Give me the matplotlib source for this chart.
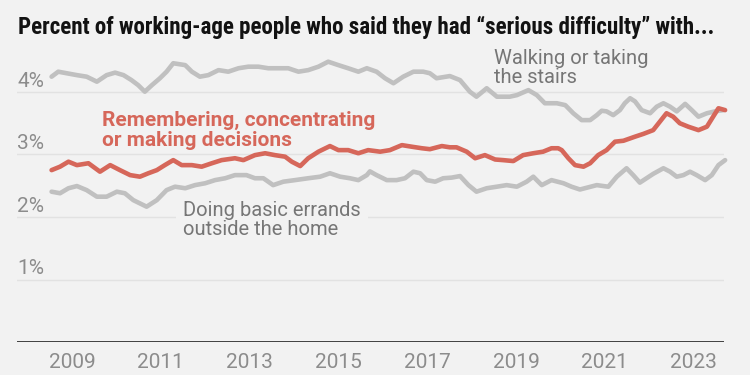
import matplotlib
matplotlib.use("Agg")
import matplotlib.pyplot as plt
from matplotlib import font_manager
import matplotlib.transforms as mtransforms

# ---------------- data ----------------
walk_x = [2008.54, 2008.69, 2008.88, 2009.11, 2009.33, 2009.56, 2009.78, 2009.97, 2010.16, 2010.34,
          2010.49, 2010.64, 2010.80, 2010.98, 2011.13, 2011.28, 2011.55, 2011.70, 2011.88, 2012.07,
          2012.30, 2012.52, 2012.75, 2012.97, 2013.20, 2013.42, 2013.65, 2013.87, 2014.10, 2014.32,
          2014.55, 2014.77, 2015.00, 2015.22, 2015.45, 2015.64, 2015.86, 2016.05, 2016.24, 2016.46,
          2016.69, 2016.91, 2017.06, 2017.21, 2017.51, 2017.74, 2017.96, 2018.11, 2018.34, 2018.57,
          2018.86, 2019.02, 2019.28, 2019.47, 2019.65, 2019.92, 2020.11, 2020.29, 2020.48, 2020.67,
          2020.82, 2020.93, 2021.04, 2021.19, 2021.34, 2021.45, 2021.57, 2021.68, 2021.83, 2022.02,
          2022.17, 2022.32, 2022.47, 2022.62, 2022.81, 2022.96, 2023.11, 2023.30, 2023.48, 2023.67]
walk_y = [4.245, 4.325, 4.30, 4.27, 4.245, 4.165, 4.27, 4.31, 4.27, 4.19,
          4.11, 4.005, 4.11, 4.22, 4.325, 4.46, 4.43, 4.325, 4.245, 4.27,
          4.35, 4.325, 4.38, 4.405, 4.405, 4.38, 4.38, 4.38, 4.325, 4.35,
          4.405, 4.485, 4.43, 4.38, 4.325, 4.38, 4.325, 4.22, 4.14, 4.245,
          4.325, 4.325, 4.30, 4.22, 4.255, 4.19, 4.005, 3.925, 4.06, 3.925,
          3.925, 3.95, 4.03, 3.95, 3.82, 3.82, 3.79, 3.66, 3.55, 3.55,
          3.63, 3.70, 3.69, 3.63, 3.71, 3.82, 3.90, 3.85, 3.71, 3.66,
          3.765, 3.82, 3.765, 3.69, 3.81, 3.71, 3.605, 3.66, 3.69, 3.71]

mem_x = [2008.54, 2008.73, 2008.92, 2009.11, 2009.37, 2009.63, 2009.86, 2010.08, 2010.31, 2010.53,
         2010.72, 2010.91, 2011.09, 2011.28, 2011.47, 2011.70, 2011.92, 2012.15, 2012.37, 2012.67,
         2012.86, 2013.12, 2013.35, 2013.57, 2013.80, 2013.95, 2014.14, 2014.32, 2014.55, 2014.81,
         2015.00, 2015.22, 2015.45, 2015.67, 2015.94, 2016.16, 2016.43, 2016.65, 2016.88, 2017.06,
         2017.33, 2017.51, 2017.66, 2017.89, 2018.08, 2018.30, 2018.53, 2018.71, 2018.94, 2019.16,
         2019.39, 2019.61, 2019.80, 2019.95, 2020.03, 2020.18, 2020.33, 2020.52, 2020.67, 2020.85,
         2021.04, 2021.23, 2021.42, 2021.68, 2021.87, 2022.09, 2022.24, 2022.39, 2022.54, 2022.69,
         2022.88, 2023.11, 2023.30, 2023.44, 2023.56, 2023.71]
mem_y = [2.75, 2.805, 2.885, 2.83, 2.86, 2.725, 2.83, 2.75, 2.67, 2.645,
         2.70, 2.75, 2.83, 2.91, 2.83, 2.83, 2.805, 2.86, 2.91, 2.94,
         2.91, 2.99, 3.02, 2.99, 2.965, 2.885, 2.815, 2.94, 3.045, 3.135,
         3.07, 3.07, 3.02, 3.07, 3.045, 3.07, 3.15, 3.125, 3.10, 3.085,
         3.135, 3.115, 3.115, 3.045, 2.94, 2.99, 2.92, 2.91, 2.895, 2.99,
         3.02, 3.045, 3.10, 3.10, 3.07, 2.94, 2.83, 2.805, 2.86, 2.99,
         3.07, 3.205, 3.22, 3.285, 3.33, 3.39, 3.525, 3.66, 3.605, 3.50,
         3.445, 3.39, 3.445, 3.605, 3.74, 3.71]

err_x = [2008.54, 2008.73, 2008.92, 2009.11, 2009.33, 2009.56, 2009.78, 2010.01, 2010.19, 2010.38,
         2010.68, 2010.91, 2011.13, 2011.32, 2011.55, 2011.77, 2012.00, 2012.22, 2012.45, 2012.67,
         2012.93, 2013.12, 2013.31, 2013.53, 2013.76, 2014.02, 2014.32, 2014.59, 2014.81, 2015.04,
         2015.26, 2015.45, 2015.64, 2015.71, 2015.86, 2016.09, 2016.31, 2016.50, 2016.69, 2016.84,
         2016.99, 2017.18, 2017.36, 2017.55, 2017.74, 2017.93, 2018.11, 2018.34, 2018.57, 2018.79,
         2019.02, 2019.24, 2019.39, 2019.58, 2019.80, 2020.07, 2020.25, 2020.44, 2020.63, 2020.82,
         2020.97, 2021.08, 2021.27, 2021.49, 2021.64, 2021.79, 2021.94, 2022.09, 2022.32, 2022.47,
         2022.62, 2022.77, 2022.92, 2023.07, 2023.26, 2023.41, 2023.56, 2023.71]
err_y = [2.405, 2.38, 2.46, 2.495, 2.43, 2.325, 2.325, 2.405, 2.38, 2.27,
         2.165, 2.27, 2.43, 2.485, 2.46, 2.51, 2.54, 2.59, 2.62, 2.67,
         2.67, 2.62, 2.62, 2.51, 2.565, 2.59, 2.62, 2.645, 2.70, 2.645,
         2.62, 2.59, 2.67, 2.73, 2.67, 2.59, 2.59, 2.62, 2.725, 2.70,
         2.59, 2.565, 2.62, 2.63, 2.655, 2.51, 2.405, 2.46, 2.485, 2.51,
         2.485, 2.565, 2.645, 2.51, 2.59, 2.54, 2.485, 2.44, 2.475, 2.51,
         2.495, 2.485, 2.645, 2.78, 2.67, 2.55, 2.62, 2.69, 2.78, 2.725,
         2.645, 2.67, 2.725, 2.67, 2.59, 2.67, 2.83, 2.91]

x_ticks = [2009, 2011, 2013, 2015, 2017, 2019, 2021, 2023]
x_tick_labels = ["2009", "2011", "2013", "2015", "2017", "2019", "2021", "2023"]
y_ticks = [1, 2, 3, 4]
y_tick_labels = ["1%", "2%", "3%", "4%"]

title_text = "Percent of working-age people who said they had \u201cserious difficulty\u201d with..."
label_walk = "Walking or taking\nthe stairs"
label_mem = "Remembering, concentrating\nor making decisions"
label_err = "Doing basic errands\noutside the home"

# ---------------- style ----------------
BG = "#f2f2f2"
GRAY_LINE = "#c0c0c0"
RED = "#d6675a"
TEXT_GRAY = "#767676"
TICK_GRAY = "#8c8c8c"
GRID = "#e2e2e2"

ttf = font_manager.fontManager.ttflist
names = {f.name for f in ttf}
SANS = "Roboto" if "Roboto" in names else "DejaVu Sans"

# look for a condensed bold face for the title (falls back to the plain sans)
title_props = dict(family=[SANS, "DejaVu Sans"])
for cand in ["Roboto Condensed", "Liberation Sans Narrow", "Open Sans Condensed",
             "Noto Sans Condensed", "DejaVu Sans Condensed"]:
    if cand in names:
        title_props = dict(family=[cand, "DejaVu Sans"])
        break
else:
    for fam in [SANS, "Noto Sans", "Open Sans", "DejaVu Sans"]:
        if any(f.name == fam and "condensed" in str(f.stretch) for f in ttf):
            title_props = dict(family=[fam, "DejaVu Sans"], fontstretch="condensed")
            break

plt.rcParams["font.family"] = [SANS, "DejaVu Sans"]

fig = plt.figure(figsize=(7.5, 3.75), dpi=100, facecolor=BG)
W, H = 750.0, 375.0
ax_left, ax_right = 17 / W, 724 / W
ax_bottom, ax_top = (H - 342) / H, (H - 54.5) / H
ax = fig.add_axes([ax_left, ax_bottom, ax_right - ax_left, ax_top - ax_bottom])
ax.set_facecolor(BG)

ax.set_xlim(2007.761, 2023.685)
ax.set_ylim(0, 4.6)

for s in ax.spines.values():
    s.set_visible(False)

# grid lines
for v in y_ticks:
    ax.axhline(v, color=GRID, lw=1.0, zorder=1)
ax.axhline(0, color="#333333", lw=1.3, zorder=4)

# lines
line_kw = dict(lw=3.3, solid_capstyle="round", solid_joinstyle="round", clip_on=False)
ax.plot(walk_x, walk_y, color=GRAY_LINE, zorder=3, **line_kw)
ax.plot(err_x, err_y, color=GRAY_LINE, zorder=3, **line_kw)
ax.plot(mem_x, mem_y, color=RED, zorder=3.5, **line_kw)

# x ticks
ax.set_xticks(x_ticks)
ax.set_xticklabels(x_tick_labels, fontsize=15, color=TICK_GRAY)
ax.tick_params(axis="x", length=0, pad=8)
ax.set_yticks([])

# y tick labels above the gridlines
trans = mtransforms.blended_transform_factory(ax.transAxes, ax.transData)
offset = mtransforms.ScaledTranslation(0, 5 / 100.0, fig.dpi_scale_trans)
for v, lab in zip(y_ticks, y_tick_labels):
    ax.text(0.0, v, lab, transform=trans + offset, ha="left", va="baseline",
            fontsize=15, color=TICK_GRAY, zorder=2)

# annotations (positioned by the baseline of their last line)
ax.text(2018.50, 4.145, label_walk, ha="left", va="baseline", fontsize=14.5,
        color=TEXT_GRAY, linespacing=1.02, zorder=2)
ax.text(2009.68, 3.135, label_mem, ha="left", va="baseline", fontsize=15,
        color=RED, fontweight="bold", linespacing=1.08, zorder=2)
ax.text(2011.50, 1.71, label_err, ha="left", va="baseline", fontsize=14.5,
        color=TEXT_GRAY, linespacing=1.0, zorder=2,
        bbox=dict(boxstyle="square,pad=0.35", facecolor=BG, edgecolor="none"))

# title, sized to span the same width as in the reference
title = fig.text(18 / W, (H - 34) / H, title_text, ha="left", va="baseline",
                 fontsize=14, fontweight="bold", color="#121212", **title_props)
renderer = fig.canvas.get_renderer()
tw = title.get_window_extent(renderer).width
title.set_fontsize(min(17.5, 14 * 700.0 / tw))

fig.savefig("out.png", dpi=100, facecolor=BG)
